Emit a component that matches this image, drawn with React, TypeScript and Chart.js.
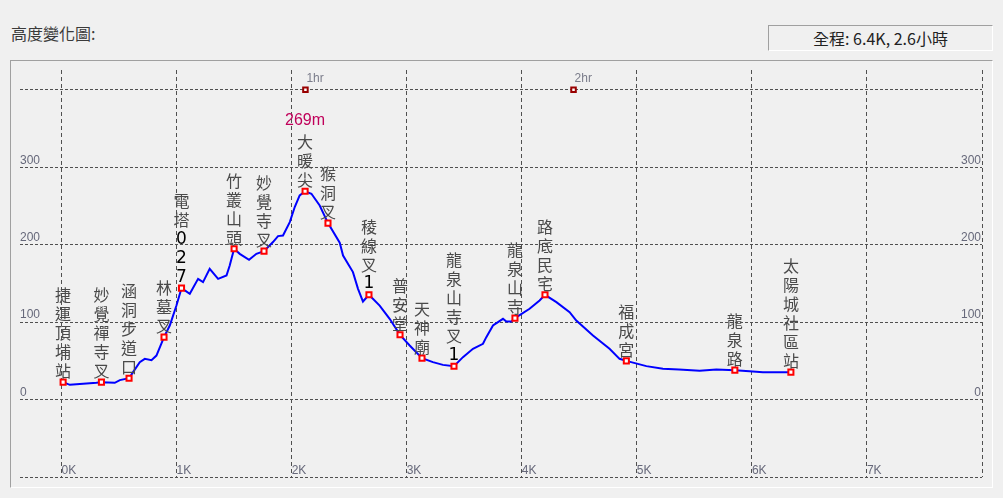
import React, { useEffect, useRef } from 'react';
import { Chart, registerables } from 'chart.js';

Chart.register(...registerables);

// ---------- data ----------
const title = '高度變化圖:';
const summary = '全程: 6.4K, 2.6小時';
const peakLabel = '269m';

const profileKm = [
  0.014, 0.072, 0.13, 0.304, 0.347, 0.463, 0.507, 0.587, 0.622, 0.68, 0.724, 0.782, 0.825, 0.891,
  0.941, 0.999, 1.043, 1.115, 1.187, 1.23, 1.288, 1.361, 1.434, 1.462, 1.5, 1.549, 1.63, 1.694,
  1.76, 1.838, 1.882, 1.925, 1.984, 2.027, 2.07, 2.117, 2.172, 2.244, 2.316, 2.418, 2.447, 2.533,
  2.577, 2.62, 2.672, 2.765, 2.852, 2.942, 3.026, 3.133, 3.228, 3.315, 3.411, 3.489, 3.576, 3.663,
  3.692, 3.75, 3.837, 3.866, 3.91, 3.941, 4.068, 4.155, 4.202, 4.301, 4.416, 4.474, 4.619, 4.763,
  4.85, 4.909, 5.083, 5.227, 5.366, 5.546, 5.691, 5.852, 5.98, 6.096, 6.339,
];
const profileM = [
  22.5, 19.0, 19.9, 21.6, 22.5, 21.6, 25.1, 27.6, 35.4, 48.3, 52.6, 50.9, 56.8, 80.6,
  95.6, 121.4, 143.9, 136.6, 155.9, 151.7, 168.9, 155.9, 160.2, 173.1, 194.7, 188.2, 180.5, 188.2,
  191.7, 203.4, 211.1, 211.9, 229.2, 248.6, 263.6, 269.0, 265.8, 250.6, 227.9, 202.5, 186.0, 164.6,
  143.0, 126.6, 135.3, 121.4, 104.3, 83.6, 69.8, 53.5, 48.3, 44.8, 43.1, 54.8, 65.5, 72.0,
  80.6, 95.6, 104.3, 100.8, 100.8, 105.2, 117.2, 127.9, 135.3, 125.8, 112.9, 102.1, 82.7, 65.5,
  52.6, 50.0, 43.2, 39.7, 38.8, 37.1, 38.8, 38.0, 36.7, 35.4, 35.4,
];

const wpNames = [
  '捷運頂埔站', '妙覺禪寺叉', '涵洞步道口', '林墓叉', '電塔027', '竹叢山頭', '妙覺寺叉', '大暖尖', '猴洞叉',
  '稜線叉1', '普安堂', '天神廟', '龍泉山寺叉1', '龍泉山寺', '路底民宅', '福成宮', '龍泉路', '太陽城社區站',
];
const wpKm = [
  0.014, 0.347, 0.587, 0.891, 1.043, 1.5, 1.76, 2.117, 2.316,
  2.672, 2.942, 3.133, 3.411, 3.941, 4.202, 4.909, 5.852, 6.339,
];
const wpM = [
  22.5, 22.5, 27.6, 80.6, 143.9, 194.7, 191.7, 269.0, 227.9,
  135.3, 83.6, 53.5, 43.1, 105.2, 135.3, 50.0, 38.0, 35.4,
];

const hrLabels = ['1hr', '2hr'];
const hrKm = [2.12, 4.45];
const hrM = [400, 400];

const xTicks = [0, 1, 2, 3, 4, 5, 6, 7, 8];
const xTickLabels = ['0K', '1K', '2K', '3K', '4K', '5K', '6K', '7K', ''];
const yTicks = [-100, 0, 100, 200, 300, 400];
const yTickLabels = ['', '0', '100', '200', '300', ''];

const labelPlugin = {
  id: 'profileLabels',
  afterDatasetsDraw(chart: any) {
    const ctx = chart.ctx;
    const xs = chart.scales.x;
    const ys = chart.scales.y;
    const area = chart.chartArea;
    ctx.save();
    // axis labels
    ctx.font = '12px "Liberation Sans", Arial, sans-serif';
    ctx.fillStyle = '#66687a';
    ctx.textBaseline = 'middle';
    yTicks.forEach((v, i) => {
      const lab = yTickLabels[i];
      if (!lab) return;
      const py = ys.getPixelForValue(v) - 7;
      ctx.textAlign = 'left';
      ctx.fillText(lab, area.left, py);
      ctx.textAlign = 'right';
      ctx.fillText(lab, area.right - 1, py);
    });
    const bottomPx = ys.getPixelForValue(-100);
    xTicks.forEach((v, i) => {
      const lab = xTickLabels[i];
      if (!lab) return;
      ctx.textAlign = 'left';
      ctx.fillText(lab, xs.getPixelForValue(v), bottomPx - 6.5);
    });
    // hour labels
    ctx.fillStyle = '#7a7c8a';
    hrLabels.forEach((lab, i) => {
      ctx.textAlign = 'left';
      ctx.fillText(lab, xs.getPixelForValue(hrKm[i]) + 1, ys.getPixelForValue(hrM[i]) - 11.5);
    });
    // waypoint names (vertical)
    const pitch = 19;
    let peakIdx = 0;
    wpM.forEach((m, i) => { if (m > wpM[peakIdx]) peakIdx = i; });
    wpNames.forEach((name, i) => {
      const px = xs.getPixelForValue(wpKm[i]);
      const py = ys.getPixelForValue(wpM[i]);
      const chars = Array.from(name);
      const n = chars.length;
      chars.forEach((ch, j) => {
        const cy = py - 11 - (n - 1 - j) * pitch;
        ctx.textAlign = 'center';
        ctx.textBaseline = 'middle';
        if (/[0-9]/.test(ch)) {
          ctx.font = '17px "DejaVu Sans", sans-serif';
          ctx.fillStyle = '#000000';
        } else {
          ctx.font = '16px "Noto Sans CJK TC", sans-serif';
          ctx.fillStyle = '#4a4a4a';
        }
        ctx.fillText(ch, px, cy);
      });
      if (i === peakIdx) {
        ctx.font = '16px "Liberation Sans", Arial, sans-serif';
        ctx.fillStyle = '#c0005a';
        ctx.fillText(peakLabel, px, py - 11 - (n - 1) * pitch - 22);
      }
    });
    ctx.restore();
  },
};

export default function App() {
  const ref = useRef<HTMLCanvasElement | null>(null);
  useEffect(() => {
    if (!ref.current) return;
    const chart = new Chart(ref.current, {
      type: 'scatter',
      data: {
        datasets: [
          {
            data: wpKm.map((x, i) => ({ x, y: wpM[i] })),
            showLine: false,
            pointStyle: 'rect',
            pointRadius: 3.6,
            pointBackgroundColor: '#ffffff',
            pointBorderColor: '#ff0000',
            pointBorderWidth: 2,
            order: 0,
          },
          {
            data: hrKm.map((x, i) => ({ x, y: hrM[i] })),
            showLine: false,
            pointStyle: 'rect',
            pointRadius: 3.2,
            pointBackgroundColor: '#ffffff',
            pointBorderColor: '#990000',
            pointBorderWidth: 2,
            order: 0,
          },
          {
            data: profileKm.map((x, i) => ({ x, y: profileM[i] })),
            showLine: true,
            borderColor: '#0000ff',
            borderWidth: 2,
            pointRadius: 0,
            tension: 0,
            order: 1,
          },
        ],
      },
      options: {
        responsive: false,
        animation: false,
        events: [],
        layout: { padding: { left: 20, right: 21, top: 70, bottom: 21 } },
        plugins: { legend: { display: false }, tooltip: { enabled: false } },
        scales: {
          x: {
            type: 'linear',
            min: -0.3607,
            max: 8,
            afterBuildTicks: (s: any) => { s.ticks = xTicks.map((v) => ({ value: v })); },
            ticks: { display: false },
            grid: { color: '#505050', lineWidth: 1, drawTicks: false },
            border: { display: false, dash: [4, 3] },
          },
          y: {
            type: 'linear',
            min: -100,
            max: 425.6,
            afterBuildTicks: (s: any) => { s.ticks = yTicks.map((v) => ({ value: v })); },
            ticks: { display: false },
            grid: { color: '#505050', lineWidth: 1, drawTicks: false },
            border: { display: false, dash: [3, 2] },
          },
        },
      },
      plugins: [labelPlugin],
    });
    return () => chart.destroy();
  }, []);

  return (
    <div style={{ position: 'fixed', left: 0, top: 0, width: 1003, height: 498, background: '#f0f0f0', overflow: 'hidden' }}>
      <div style={{ position: 'absolute', left: 11, top: 22, font: '16px "Noto Sans CJK TC", sans-serif', color: '#3a3a3a', lineHeight: '22px', whiteSpace: 'nowrap' }}>
        {title}
      </div>
      <div style={{ position: 'absolute', left: 768, top: 25, width: 225, height: 26, boxSizing: 'border-box', borderTop: '1px solid #a0a0a0', borderLeft: '1px solid #a0a0a0', borderRight: '1px solid #ffffff', borderBottom: '1px solid #ffffff', font: '16px "Noto Sans CJK TC", sans-serif', color: '#222', lineHeight: '24px', textAlign: 'center', whiteSpace: 'nowrap' }}>
        {summary}
      </div>
      <div style={{ position: 'absolute', left: 10, top: 60, width: 983, height: 428, boxSizing: 'border-box', borderTop: '1px solid #a0a0a0', borderLeft: '1px solid #a0a0a0', borderRight: '1px solid #ffffff', borderBottom: '1px solid #ffffff' }} />
      <canvas ref={ref} width={1003} height={498} style={{ position: 'absolute', left: 0, top: 0, width: 1003, height: 498 }} />
    </div>
  );
}
